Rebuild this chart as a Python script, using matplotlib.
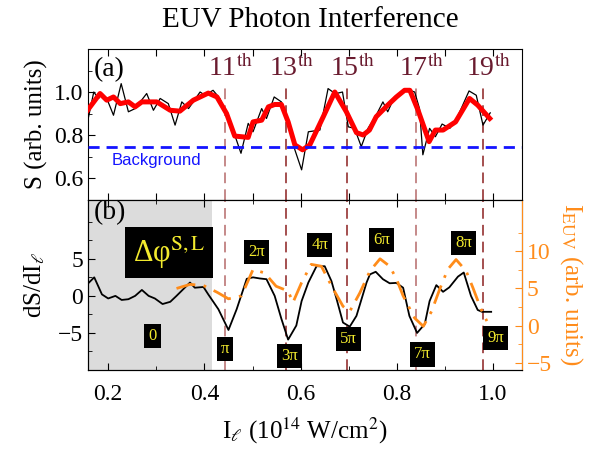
import matplotlib
matplotlib.use("Agg")
import matplotlib.pyplot as plt
from matplotlib.ticker import MultipleLocator, FixedLocator

plt.rcParams['font.family'] = ['Liberation Serif', 'DejaVu Serif']
plt.rcParams['mathtext.fontset'] = 'stix'

# ---------------- data ----------------
# (a) raw signal
sa_x = [0.157, 0.170, 0.180, 0.187, 0.197, 0.211, 0.227, 0.242, 0.256, 0.280, 0.294, 0.308,
        0.325, 0.339, 0.353, 0.367, 0.391, 0.401, 0.418, 0.432, 0.450, 0.463, 0.476, 0.491,
        0.501, 0.519, 0.529, 0.545, 0.560, 0.574, 0.588, 0.602, 0.616, 0.640, 0.657, 0.667,
        0.674, 0.687, 0.699, 0.712, 0.726, 0.740, 0.757, 0.771, 0.781, 0.795, 0.809, 0.823,
        0.837, 0.847, 0.854, 0.868, 0.880, 0.894, 0.910, 0.923, 0.950, 0.965, 0.979, 0.994]
sa_y = [0.861, 1.000, 0.970, 0.993, 0.970, 0.892, 1.039, 0.908, 0.923, 0.993, 0.915, 0.970,
        0.946, 0.846, 0.954, 0.923, 1.000, 0.985, 1.008, 0.970, 0.877, 0.800, 0.715, 0.854,
        0.815, 0.923, 0.877, 0.977, 0.954, 0.861, 0.731, 0.638, 0.815, 0.823, 1.016, 1.000,
        0.993, 1.000, 0.838, 0.831, 0.746, 0.831, 0.892, 0.954, 0.908, 0.977, 1.000, 1.011,
        1.000, 0.923, 0.708, 0.831, 0.792, 0.851, 0.831, 0.869, 1.005, 0.985, 0.846, 0.903]
# (a) smoothed signal
sm_x = [0.157, 0.183, 0.197, 0.211, 0.225, 0.242, 0.256, 0.270, 0.301, 0.329, 0.349, 0.377,
        0.408, 0.426, 0.446, 0.463, 0.491, 0.501, 0.519, 0.533, 0.546, 0.560, 0.574, 0.588,
        0.604, 0.619, 0.647, 0.671, 0.695, 0.716, 0.730, 0.743, 0.757, 0.781, 0.799, 0.816,
        0.827, 0.844, 0.867, 0.880, 0.896, 0.922, 0.951, 0.968, 0.993]
sm_y = [0.915, 0.993, 0.962, 0.977, 0.946, 0.954, 0.931, 0.954, 0.954, 0.915, 0.911, 0.962,
        0.995, 0.977, 0.900, 0.795, 0.789, 0.861, 0.869, 0.931, 0.942, 0.942, 0.861, 0.754,
        0.731, 0.754, 0.885, 1.000, 0.908, 0.811, 0.800, 0.823, 0.885, 0.939, 0.977, 1.008,
        1.008, 0.915, 0.769, 0.823, 0.823, 0.861, 0.970, 0.939, 0.877]
background = 0.745

# (b) derivative dS/dI
ds_x = [0.157, 0.171, 0.187, 0.200, 0.215, 0.228, 0.242, 0.256, 0.270, 0.284, 0.297, 0.313,
        0.329, 0.342, 0.356, 0.370, 0.380, 0.398, 0.408, 0.429, 0.450, 0.467, 0.488, 0.501,
        0.515, 0.529, 0.546, 0.560, 0.574, 0.591, 0.602, 0.616, 0.633, 0.650, 0.664, 0.675,
        0.688, 0.702, 0.716, 0.737, 0.744, 0.756, 0.771, 0.785, 0.799, 0.813, 0.826, 0.842,
        0.858, 0.868, 0.882, 0.896, 0.909, 0.927, 0.939, 0.954, 0.968, 0.977, 0.996]
ds_y = [1.6, 2.5, 0.2, -0.35, 0.0, -0.55, -0.45, 0.0, 0.8, 0.0, -0.35, -1.1,
        -0.8, 0.0, 0.9, 1.8, 1.1, 1.2, 0.2, -1.8, -4.6, -1.8, 2.3, 2.5,
        2.35, 2.25, 0.0, -3.1, -5.9, -4.0, -0.7, 1.8, 4.0, 4.0, 2.0, -0.5,
        -3.6, -4.15, -2.7, 1.8, 2.9, 3.25, 2.25, 1.7, 1.75, 1.1, -2.7, -5.0,
        -3.8, -0.7, 1.45, 0.55, 1.15, 2.6, 3.15, 0.0, -1.9, -2.15, -2.15]
# (b) EUV intensity
euv_x = [0.342, 0.370, 0.398, 0.426, 0.450, 0.477, 0.501, 0.525, 0.549, 0.574, 0.584, 0.602,
         0.622, 0.643, 0.667, 0.688, 0.702, 0.723, 0.744, 0.765, 0.785, 0.799, 0.813, 0.837,
         0.855, 0.872, 0.889, 0.906, 0.923, 0.944, 0.958, 0.975, 0.987]
euv_y = [5.0, 5.55, 5.4, 4.5, 3.6, 4.0, 7.55, 7.1, 5.3, 4.65, 3.1, 5.8,
         8.25, 8.0, 5.0, 2.6, 1.9, 4.4, 7.35, 9.0, 8.0, 6.3, 4.0, 1.0,
         -0.1, 1.9, 4.9, 7.6, 8.9, 7.35, 5.1, 2.2, 0.6]

harm_x = [0.443, 0.569, 0.696, 0.840, 0.978]
harm_labels = ['11', '13', '15', '17', '19']
phase_labels = ['0', 'π', '2π', '3π', '4π', '5π', '6π', '7π', '8π', '9π']
phase_x = [0.292, 0.443, 0.509, 0.576, 0.640, 0.700, 0.768, 0.853, 0.939, 1.005]
phase_y = [-5.45, -7.2, 5.9, -8.15, 6.85, -5.85, 7.5, -7.9, 7.1, -5.7]
shade_end = 0.415

# ---------------- figure ----------------
fig = plt.figure(figsize=(6.01, 4.53), dpi=100)
ax1 = fig.add_axes([0.1464, 0.5596, 0.7221, 0.3322])
ax2 = fig.add_axes([0.1464, 0.1832, 0.7221, 0.3764])
ax2r = ax2.twinx()

xlim = (0.158, 1.06)
orange = '#FF8C1A'
maroon = '#6A1B2F'
vcols = ['#B56A6A', '#8B1F1F', '#8B1F1F', '#B56A6A', '#8B1F1F']
ylw = '#F2EA2E'

# panel (a)
ax1.plot(sa_x, sa_y, color='black', lw=0.9, zorder=3)
ax1.plot(sm_x, sm_y, color='red', lw=3.6, zorder=4, solid_joinstyle='round')
ax1.axhline(background, color='#1414FF', lw=2.0, dashes=(4, 2.5), zorder=5)
ax1.text(0.208, 0.661, 'Background', color='#1414FF', fontsize=12,
         family=['Liberation Sans', 'DejaVu Sans'])
for hx, hl, c in zip(harm_x, harm_labels, vcols):
    ax1.vlines(hx, 0.5, 1.04, colors=c, lw=1.1, linestyles=(0, (7, 4)), zorder=2)
    ax1.text(hx + 0.012, 1.075, hl + r'$^{\rm th}$', color=maroon, fontsize=20,
             ha='center', va='baseline')
ax1.text(0.17, 1.075, '(a)', fontsize=20, va='baseline')
ax1.set_xlim(*xlim)
ax1.set_ylim(0.5, 1.2)
ax1.yaxis.set_major_locator(FixedLocator([0.6, 0.8, 1.0]))
ax1.yaxis.set_minor_locator(FixedLocator([0.7, 0.9, 1.1]))
ax1.xaxis.set_major_locator(MultipleLocator(0.1))
ax1.set_xticklabels([])
ax1.tick_params(axis='both', which='both', direction='in', top=True, right=False,
                labelsize=17)
ax1.tick_params(which='major', length=5)
ax1.tick_params(which='minor', length=3)
ax1.set_ylabel('S (arb. units)', fontsize=18, labelpad=4)

# panel (b)
ax2.axvspan(xlim[0], shade_end, color='#DCDCDC', lw=0, zorder=0)
for hx, c in zip(harm_x, vcols):
    ax2.vlines(hx, -10, 13, colors=c, lw=1.1, linestyles=(0, (7, 4)), zorder=1)
ax2.plot(ds_x, ds_y, color='black', lw=1.3, zorder=3)
ax2.text(0.17, 10.3, '(b)', fontsize=20, va='baseline')
ax2.text(0.327, 5.84, 'Δφ' + r'$^{\rm S,L}$', color=ylw, fontsize=22,
         ha='center', va='center', zorder=6,
         bbox=dict(boxstyle='square,pad=0.25', fc='black', ec='none'))
for pl, px, py in zip(phase_labels, phase_x, phase_y):
    ax2.text(px, py, pl, color=ylw, fontsize=12, ha='center', va='center', zorder=6,
             bbox=dict(boxstyle='square,pad=0.25', fc='black', ec='none'))
ax2.set_xlim(*xlim)
ax2.set_ylim(-10, 13)
ax2.yaxis.set_major_locator(FixedLocator([-5, 0, 5]))
ax2.yaxis.set_minor_locator(FixedLocator([-7.5, -2.5, 2.5, 7.5, 10]))
ax2.xaxis.set_major_locator(FixedLocator([0.2, 0.4, 0.6, 0.8, 1.0]))
ax2.xaxis.set_minor_locator(FixedLocator([0.3, 0.5, 0.7, 0.9]))
ax2.set_xticklabels(['0.2', '0.4', '0.6', '0.8', '1.0'])
ax2.tick_params(axis='both', which='both', direction='in', top=True, labelsize=17)
ax2.tick_params(which='major', length=5)
ax2.tick_params(which='minor', length=3)
ax2.tick_params(axis='x', pad=10)
ax2.set_ylabel(r'dS/dI$_{\ell}$', fontsize=18, labelpad=8)
ax2.set_xlabel(r'I$_{\ell}$ (10$^{14}$ W/cm$^{2}$)', fontsize=18, labelpad=8)

ax2r.plot(euv_x, euv_y, color=orange, lw=2.0, linestyle=(0, (7, 3, 1, 3)), zorder=4)
ax2r.set_ylim(-6, 17)
ax2r.yaxis.set_major_locator(FixedLocator([-5, 0, 5, 10]))
ax2r.yaxis.set_minor_locator(FixedLocator([-2.5, 2.5, 7.5, 12.5]))
ax2r.tick_params(axis='y', which='both', direction='in', colors=orange, labelsize=17)
ax2r.tick_params(which='major', length=5)
ax2r.tick_params(which='minor', length=3)
ax2r.spines['right'].set_color(orange)
ax2r.set_ylabel(r'I$_{\rm EUV}$ (arb. units)', color=orange, fontsize=18,
                rotation=270, va='bottom', labelpad=4)

fig.text(0.516, 0.955, 'EUV Photon Interference', fontsize=21, ha='center', va='center')

fig.savefig('out.png', dpi=100)
